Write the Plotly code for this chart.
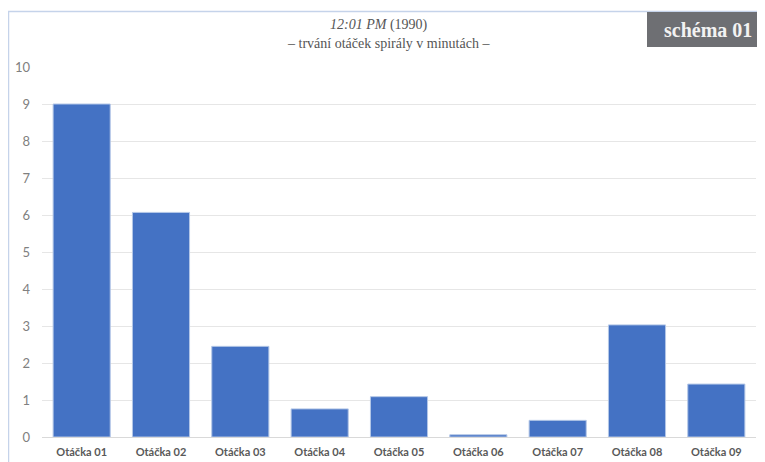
import plotly.graph_objects as go

categories = ["Otáčka 01", "Otáčka 02", "Otáčka 03", "Otáčka 04", "Otáčka 05",
              "Otáčka 06", "Otáčka 07", "Otáčka 08", "Otáčka 09"]
values = [9.0, 6.07, 2.45, 0.76, 1.09, 0.06, 0.45, 3.03, 1.43]
y_ticks = list(range(0, 11))

# page body adds an 8px offset; work in page coordinates and shift
OFF = 8
W, H = 765 - OFF, 462 - OFF
L, R, T, B = 42 - OFF, 9, 67 - OFF, 25
pw, ph = W - L - R, H - T - B

def px(x):
    return (x - OFF - L) / pw

def py(y):
    return (H - B - (y - OFF)) / ph

fig = go.Figure()
fig.add_trace(go.Bar(
    x=categories, y=values,
    marker=dict(color="#4472c4", line=dict(color="#b4c7e7", width=1)),
    width=0.72,
))

fig.update_layout(
    width=W, height=H,
    margin=dict(l=L, r=R, t=T, b=B, autoexpand=False),
    paper_bgcolor="white", plot_bgcolor="white",
    showlegend=False,
    xaxis=dict(
        showgrid=False, showline=True, linecolor="#d9d9d9", linewidth=1,
        ticks="", tickfont=dict(family="Lato", size=11, color="#595959", weight="bold"),
        ticklabelstandoff=5, fixedrange=True, automargin=False,
    ),
    yaxis=dict(
        range=[0, 10], tickvals=y_ticks, showgrid=True, gridcolor="#e6e6e6",
        gridwidth=1, zeroline=False, showline=False, ticks="",
        tickfont=dict(family="Lato", size=13, color="#808080"),
        ticklabelstandoff=11, fixedrange=True, automargin=False,
    ),
    shapes=[
        dict(type="line", xref="paper", yref="paper",
             x0=px(8), x1=px(766), y0=py(11.5), y1=py(11.5),
             line=dict(color="#c5d3ea", width=1.5)),
        dict(type="line", xref="paper", yref="paper",
             x0=px(8.5), x1=px(8.5), y0=py(11.5), y1=py(463),
             line=dict(color="#c5d3ea", width=1.5)),
        dict(type="rect", xref="paper", yref="paper",
             x0=px(647), x1=px(766), y0=py(47), y1=py(12),
             fillcolor="#6e6f73", line=dict(width=0)),
    ],
    annotations=[
        dict(text="<i>12:01 PM</i> (1990)", xref="paper", yref="paper",
             x=px(379), y=py(25), showarrow=False, xanchor="center", yanchor="middle",
             font=dict(family="Liberation Serif", size=14, color="#555555")),
        dict(text="– trvání otáček spirály v minutách –", xref="paper", yref="paper",
             x=px(388), y=py(44), showarrow=False, xanchor="center", yanchor="middle",
             font=dict(family="Liberation Serif", size=14, color="#555555")),
        dict(text="<b>schéma 01</b>", xref="paper", yref="paper",
             x=px(708), y=py(30), showarrow=False, xanchor="center", yanchor="middle",
             font=dict(family="Liberation Serif", size=20, color="#f2f2f2")),
    ],
)

fig.write_html("out.html")
